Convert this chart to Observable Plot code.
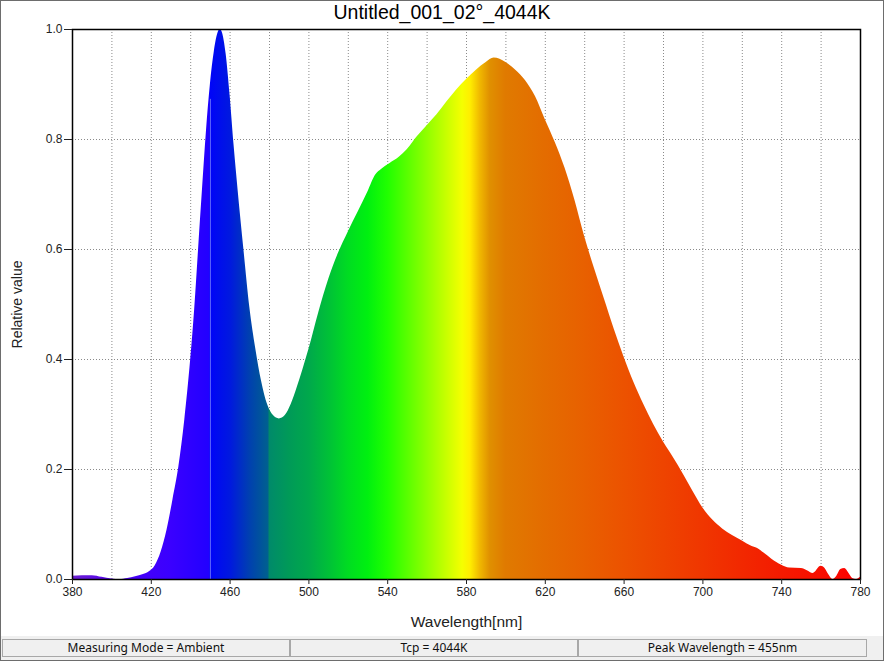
<!DOCTYPE html>
<html>
<head>
<meta charset="utf-8">
<script src="https://cdn.jsdelivr.net/npm/d3@7"></script>
<script src="https://cdn.jsdelivr.net/npm/@observablehq/plot@0.6"></script>
<style>
  html, body { margin: 0; padding: 0; background: #fff; }
  #wrap { position: relative; width: 884px; height: 661px; overflow: hidden; background: #fff; }
  #title { position: absolute; left: 0; top: 1px; width: 884px; text-align: center;
           font-family: "Liberation Sans", Arial, sans-serif; font-size: 19.5px; color: #000; }
  #status { position: absolute; left: 0; top: 636px; width: 884px; height: 25px; background: #f0f0f0; }
  .box { position: absolute; top: 3px; height: 16px; border: 1px solid #a8a8a8; background: #f0f0f0;
         font-family: "Noto Sans", "Open Sans", sans-serif; font-size: 12px; line-height: 16px;
         text-align: center; color: #111; }
  #border { position: absolute; left: 0; top: 0; width: 882px; height: 659px; border: 1px solid #6d6d6d; pointer-events: none; }
</style>
</head>
<body>
<div id="wrap">
  <div id="chart"></div>
  <div id="title"></div>
  <div id="status"></div>
  <div id="border"></div>
</div>
<script>
const chartTitle = "Untitled_001_02°_4044K";
const xLabel = "Wavelength[nm]";
const yLabel = "Relative value";
const statusTexts = ["Measuring Mode = Ambient", "Tcp = 4044K", "Peak Wavelength = 455nm"];

const wavelengths = [380,385,390,395,400,404,408,412,416,419,422,425,428,431,434,437,440,442,444,446,448,450,452,454,455,456,458,460,462,464,467,470,473,476,479,482,485,488,491,494,497,500,505,510,515,520,525,530,534,537,541,546,550,555,560,565,570,575,580,585,590,594,597,600,605,610,615,620,625,630,635,640,645,650,655,660,665,670,675,680,685,690,695,700,705,710,715,720,725,728,731,735,740,744,750,753,756,760,762,764,766,768,770,772,774,776,778,780];
const values = [0.006,0.007,0.007,0.004,0.001,0.0,0.002,0.005,0.009,0.014,0.025,0.05,0.09,0.145,0.205,0.29,0.40,0.49,0.60,0.71,0.815,0.90,0.96,0.995,1.0,0.995,0.955,0.88,0.79,0.71,0.60,0.495,0.42,0.36,0.318,0.298,0.292,0.298,0.318,0.348,0.382,0.418,0.485,0.545,0.593,0.632,0.668,0.705,0.736,0.746,0.756,0.768,0.782,0.805,0.825,0.845,0.868,0.89,0.909,0.926,0.94,0.948,0.946,0.94,0.926,0.907,0.878,0.836,0.795,0.748,0.69,0.623,0.565,0.51,0.455,0.404,0.358,0.318,0.282,0.25,0.222,0.192,0.16,0.13,0.108,0.092,0.08,0.07,0.06,0.056,0.048,0.037,0.026,0.021,0.02,0.016,0.011,0.024,0.02,0.008,0.0,0.006,0.018,0.02,0.012,0.002,0.0,0.004];

const xTicks = [380,420,460,500,540,580,620,660,700,740,780];
const xGrid = [400,420,440,460,480,500,520,540,560,580,600,620,640,660,680,700,720,740,760];
const yTicks = [0,0.2,0.4,0.6,0.8,1.0];
const yGrid = [0.2,0.4,0.6,0.8];
const seamWavelengths = [450,480];

const stopWavelengths = [380,395,410,430,449.5,450,460,470,479.5,480,490,500,510,520,530,540,550,560,570,578,582,587,592,597,600,620,640,660,680,700,720,740,760,780];
const stopColors = ["#6b1fd0","#5a0ae8","#4800f8","#3a00ff","#2200ff","#0004f8","#0018e0","#0040b0","#00608f","#008a6a","#009a58","#00a84c","#00c038","#00dc22","#00f010","#20ff00","#58ff00","#90ff00","#c8ff00","#f5ff00","#ffee00","#f0b800","#e09000","#e08200","#e07a00","#e46c00","#e86000","#ec5200","#ee4400","#f03600","#f22800","#f41a00","#f80e00","#ff0000"];

const spectrum = wavelengths.map((w, i) => ({w, v: values[i]}));
const seams = spectrum.filter(d => seamWavelengths.includes(d.w));

const svg = Plot.plot({
  width: 884,
  height: 636,
  marginTop: 29,
  marginBottom: 57,
  marginLeft: 72,
  marginRight: 24,
  style: {fontFamily: "Liberation Sans, Arial, sans-serif", fontSize: "12px", color: "#222", background: "#fff"},
  x: {domain: [380, 780]},
  y: {domain: [0, 1]},
  marks: [
    Plot.gridX(xGrid, {stroke: "#8a8a8a", strokeOpacity: 1, strokeDasharray: "1,2"}),
    Plot.gridY(yGrid, {stroke: "#8a8a8a", strokeOpacity: 1, strokeDasharray: "1,2"}),
    Plot.areaY(spectrum, {x: "w", y: "v", fill: "url(#specGrad)", curve: "monotone-x"}),
    Plot.ruleX(seams, {x: "w", y1: 0, y2: d => d.v * 0.97, stroke: "#d8e4ff", strokeOpacity: 0.45}),
    Plot.frame({stroke: "#000", strokeWidth: 1.5}),
    Plot.axisX({ticks: xTicks, tickSize: 5, tickPadding: 3, label: null, tickFormat: d => String(d)}),
    Plot.axisY({ticks: yTicks, tickSize: 8, tickPadding: 2, label: null, tickFormat: d => d.toFixed(1)}),
    Plot.text([xLabel], {frameAnchor: "bottom", textAnchor: "middle", dy: 47, fontSize: 15.5, fill: "#222", text: d => d}),
    Plot.text([yLabel], {frameAnchor: "left", textAnchor: "middle", dx: -55, rotate: -90, fontSize: 14, fill: "#222", text: d => d})
  ]
});

// gradient for the spectral fill, positioned with the x scale
const xs = svg.scale("x");
const ns = "http://www.w3.org/2000/svg";
const defs = document.createElementNS(ns, "defs");
const grad = document.createElementNS(ns, "linearGradient");
grad.setAttribute("id", "specGrad");
grad.setAttribute("gradientUnits", "userSpaceOnUse");
grad.setAttribute("x1", xs.apply(380));
grad.setAttribute("x2", xs.apply(780));
grad.setAttribute("y1", 0);
grad.setAttribute("y2", 0);
stopWavelengths.forEach((w, i) => {
  const s = document.createElementNS(ns, "stop");
  s.setAttribute("offset", ((w - 380) / 400).toFixed(5));
  s.setAttribute("stop-color", stopColors[i]);
  grad.appendChild(s);
});
defs.appendChild(grad);
svg.insertBefore(defs, svg.firstChild);

document.getElementById("chart").appendChild(svg);
document.getElementById("title").textContent = chartTitle;

const boxes = [{left: 2, width: 286}, {left: 290, width: 286}, {left: 578, width: 287}];
const status = document.getElementById("status");
statusTexts.forEach((t, i) => {
  const b = document.createElement("div");
  b.className = "box";
  b.style.left = boxes[i].left + "px";
  b.style.width = boxes[i].width + "px";
  b.textContent = t;
  status.appendChild(b);
});
</script>
</body>
</html>
